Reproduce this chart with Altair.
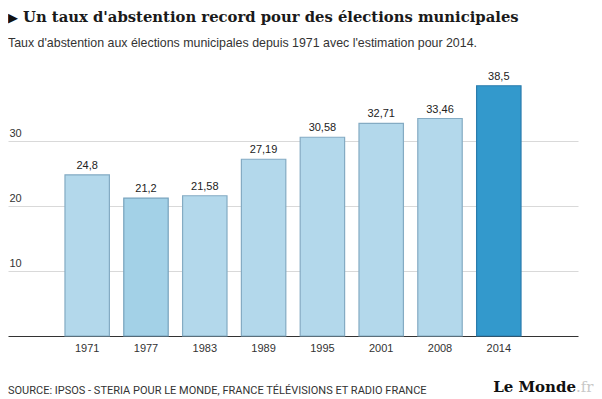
import altair as alt
import pandas as pd

# ---- data ----
years = ["1971", "1977", "1983", "1989", "1995", "2001", "2008", "2014"]
abstention = [24.8, 21.2, 21.58, 27.19, 30.58, 32.71, 33.46, 38.5]
value_labels = ["24,8", "21,2", "21,58", "27,19", "30,58", "32,71", "33,46", "38,5"]
status = ["mesuré", "survolé", "mesuré", "mesuré", "mesuré", "mesuré", "mesuré", "estimation"]
y_ticks = [10, 20, 30]

title_text = "Un taux d'abstention record pour des élections municipales"
subtitle_text = "Taux d'abstention aux élections municipales depuis 1971 avec l'estimation pour 2014."
source_text = "SOURCE: IPSOS - STERIA POUR LE MONDE, FRANCE TÉLÉVISIONS ET RADIO FRANCE"

df = pd.DataFrame({"annee": years, "taux": abstention, "label": value_labels, "statut": status})

W, H = 570, 260
SANS = "Liberation Sans, Arial, sans-serif"

x_enc = alt.X(
    "annee:N", sort=years,
    scale=alt.Scale(paddingInner=0.2445, paddingOuter=0.969),
    axis=alt.Axis(title=None, labelAngle=0, ticks=False, tickSize=0, labelPadding=6,
                  domain=True, domainColor="#333333", domainWidth=1, grid=False,
                  labelFont=SANS, labelFontSize=11, labelColor="#333333"),
)
y_enc = alt.Y(
    "taux:Q",
    scale=alt.Scale(domain=[0, 40], nice=False),
    axis=alt.Axis(title=None, values=y_ticks, ticks=False, tickSize=0, domain=False,
                  labelAlign="left", labelBaseline="alphabetic", labelPadding=-1,
                  labelOffset=-5, labelFont=SANS, labelFontSize=11, labelColor="#333333",
                  grid=True, gridColor="#d9d9d9", gridWidth=1),
)

stat_dom = ["mesuré", "survolé", "estimation"]
bars = alt.Chart(df).mark_bar(strokeWidth=1.2).encode(
    x=x_enc,
    y=y_enc,
    color=alt.Color("statut:N", scale=alt.Scale(domain=stat_dom, range=["#b3d8eb", "#a3d1e7", "#3399cc"]), legend=None),
    stroke=alt.Stroke("statut:N", scale=alt.Scale(domain=stat_dom, range=["#84abc3", "#76a2bd", "#2a7cad"]), legend=None),
)

labels = alt.Chart(df).mark_text(dy=-6, baseline="alphabetic", font=SANS, fontSize=11, color="#222222").encode(
    x=alt.X("annee:N", sort=years),
    y=alt.Y("taux:Q"),
    text="label:N",
)

one = alt.Data(values=[{"k": 1}])

tri = alt.Chart(one).mark_text(text="▶", align="left", baseline="alphabetic", font="DejaVu Sans",
                               fontSize=13, color="#111111").encode(x=alt.value(0), y=alt.value(-54))
title = alt.Chart(one).mark_text(text=title_text, align="left", baseline="alphabetic", font="DejaVu Serif",
                                 fontWeight="bold", fontSize=14.8, color="#1a1a1a").encode(x=alt.value(15), y=alt.value(-54))
subtitle = alt.Chart(one).mark_text(text=subtitle_text, align="left", baseline="alphabetic", font=SANS,
                                    fontSize=12.4, color="#333333").encode(x=alt.value(0), y=alt.value(-29))
source = alt.Chart(one).mark_text(text=source_text, align="left", baseline="alphabetic", font="Roboto",
                                  fontSize=11, color="#333333").encode(x=alt.value(0), y=alt.value(318))
logo = alt.Chart(one).mark_text(text="Le Monde", align="right", baseline="alphabetic", font="DejaVu Serif",
                                fontWeight="bold", fontSize=15, color="#111111").encode(x=alt.value(568), y=alt.value(316))
logo_fr = alt.Chart(one).mark_text(text=".fr", align="left", baseline="alphabetic", font="DejaVu Serif",
                                   fontSize=15, color="#c8c8c8").encode(x=alt.value(568), y=alt.value(316))

chart = alt.layer(bars, labels, tri, title, subtitle, source, logo, logo_fr).properties(
    width=W, height=H,
    autosize=alt.AutoSizeParams(type="none"),
    padding={"left": 0, "top": 68, "right": 16, "bottom": 62},
).configure_view(stroke=None)

chart.save("out.html", embed_options={"renderer": "svg", "actions": False})
